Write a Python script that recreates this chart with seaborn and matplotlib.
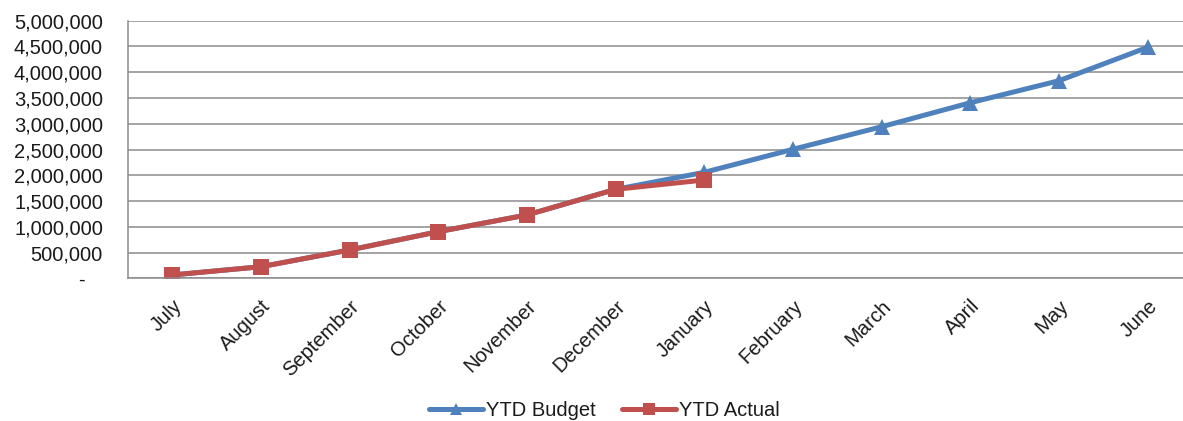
import numpy as np
import pandas as pd
import matplotlib
matplotlib.use("Agg")
import matplotlib.pyplot as plt
import seaborn as sns
from matplotlib.lines import Line2D
from matplotlib.ticker import FuncFormatter, FixedLocator

# Data
months = ["July", "August", "September", "October", "November", "December",
          "January", "February", "March", "April", "May", "June"]
ytd_budget = [65000, 225000, 550000, 905000, 1230000, 1727000,
              2057000, 2504000, 2942000, 3408000, 3835000, 4484000]
ytd_actual = [65000, 225000, 550000, 905000, 1230000, 1727000, 1908000]

budget_color = "#4F81BD"
actual_color = "#C0504D"
grid_color = "#8C8C8C"
text_color = "#1a1a1a"
fs = 14.5

sns.set_style("white")
plt.rcParams["font.family"] = ["Liberation Sans", "DejaVu Sans"]

df = pd.concat([
    pd.DataFrame({"month": months, "value": ytd_budget, "series": "YTD Budget"}),
    pd.DataFrame({"month": months[:len(ytd_actual)], "value": ytd_actual, "series": "YTD Actual"}),
], ignore_index=True)

fig = plt.figure(figsize=(11.83, 4.21), dpi=100)
ax = fig.add_axes([128 / 1183, 142.7 / 421, 1064 / 1183, 257.6 / 421])

sns.lineplot(data=df, x="month", y="value", hue="series", style="series",
             markers={"YTD Budget": "^", "YTD Actual": "s"}, dashes=False,
             palette={"YTD Budget": budget_color, "YTD Actual": actual_color},
             linewidth=3.6, markersize=11.5, markeredgewidth=0, sort=False,
             legend=False, ax=ax)

ax.set_xlim(-0.5, len(months) - 0.5)
ax.set_ylim(0, 5000000)
ax.set_yticks(np.arange(0, 5000001, 500000))
ax.yaxis.set_major_formatter(FuncFormatter(lambda v, p: "-   " if v == 0 else f"{int(v):,}"))
ax.yaxis.grid(True, color=grid_color, linewidth=1.1)
ax.set_axisbelow(True)

# category labels at centres, tick marks at boundaries
ax.set_xticks(range(len(months)))
ax.set_xticklabels(months, rotation=45, ha="right", rotation_mode="anchor")
ax.xaxis.set_minor_locator(FixedLocator(np.arange(-0.5, len(months), 1.0)))
ax.tick_params(axis="x", which="major", length=0, pad=13, labelsize=fs, colors=text_color)
ax.tick_params(axis="x", which="minor", length=5, width=1.1, color=grid_color, direction="out")
ax.tick_params(axis="y", length=5, width=1.1, color=grid_color, direction="out",
               pad=13, labelsize=fs, labelcolor=text_color)

for side in ["top", "right"]:
    ax.spines[side].set_visible(False)
for side in ["left", "bottom"]:
    ax.spines[side].set_color(grid_color)
    ax.spines[side].set_linewidth(1.1)

ax.set_xlabel("")
ax.set_ylabel("")

handles = [
    Line2D([], [], color=budget_color, marker="^", markersize=9, markeredgewidth=0, linewidth=3.6),
    Line2D([], [], color=actual_color, marker="s", markersize=9, markeredgewidth=0, linewidth=3.6),
]
fig.legend(handles, ["YTD Budget", "YTD Actual"], loc="center", bbox_to_anchor=(0.511, 10 / 421),
           ncol=2, frameon=False, fontsize=fs, handlelength=2.7, handletextpad=0.15,
           columnspacing=1.3, labelcolor=text_color)

fig.savefig("out.png", dpi=100)
